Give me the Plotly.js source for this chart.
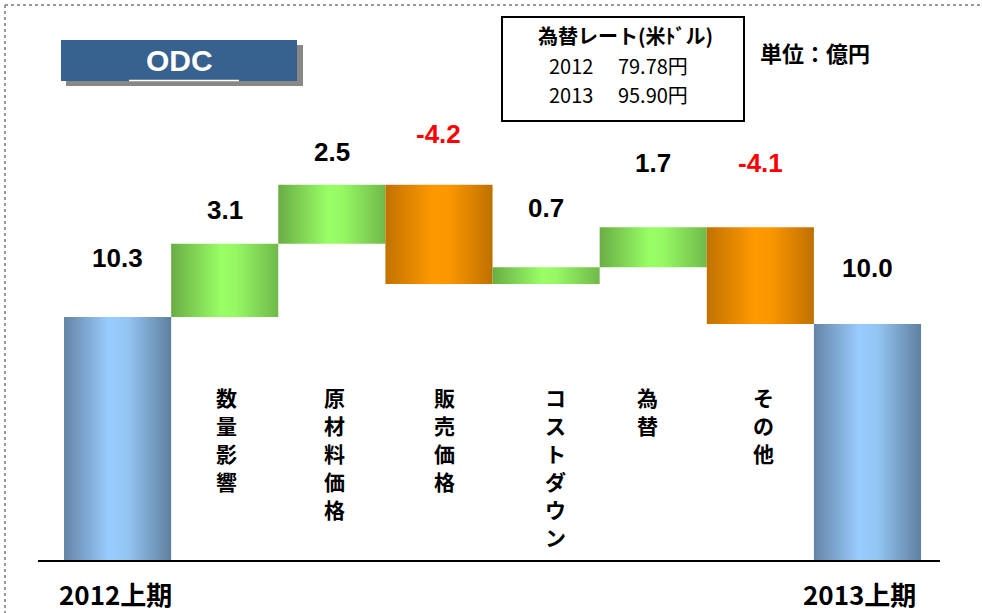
<!DOCTYPE html>
<html>
<head>
<meta charset="utf-8">
<script src="https://cdn.plot.ly/plotly-3.0.1.min.js"></script>
<style>
  html, body { margin: 0; padding: 0; background: #ffffff; }
  #chart { width: 982px; height: 613px; }
</style>
</head>
<body>
<div id="chart"></div>
<script>
// ---- data ----
const categories = ["2012上期", "数量影響", "原材料価格", "販売価格", "コストダウン", "為替", "その他", "2013上期"];
const kinds      = ["total", "delta", "delta", "delta", "delta", "delta", "delta", "total"];
const values     = [10.3, 3.1, 2.5, -4.2, 0.7, 1.7, -4.1, 10.0];
const rateTitle  = "為替レート(米ﾄﾞル)";
const rateYears  = ["2012", "2013"];
const rateValues = ["79.78円", "95.90円"];
const unitLabel  = "単位：億円";
const chartTitle = "ODC";

// ---- styling (not data) ----
const labelLift  = [59, 34, 33, 51, 59, 64, 64, 56];   // px above bar top for value labels
const catShift   = [-2, 2, 3, 6, 9, -6, 3, -8];         // px horizontal nudges for category labels
const gradBlue   = [[0, '#6584a6'], [0.42, '#99ccff'], [0.6, '#93c4f2'], [1, '#5f7f9f']];
const gradGreen  = [[0, '#6aad45'], [0.47, '#99ff66'], [0.6, '#96f864'], [1, '#70b94a']];
const gradOrange = [[0, '#c17200'], [0.45, '#ff9900'], [0.6, '#fa9600'], [1, '#bf7000']];
const jpFont  = '"Noto Sans CJK JP", "Liberation Sans", sans-serif';
const numFont = '"Liberation Sans", Arial, sans-serif';

const px = (x) => (x - 38) / 902;
const py = (y) => (560 - y) / 460;

// ---- build bars (waterfall) ----
const traces = [];
const annotations = [];
let running = 0;
values.forEach((v, i) => {
  let base, top;
  if (kinds[i] === 'total') { base = 0; top = v; running = v; }
  else { base = running; top = running + v; running = top; }
  const lo = Math.min(base, top), hi = Math.max(base, top);
  const grad = kinds[i] === 'total' ? gradBlue : (v >= 0 ? gradGreen : gradOrange);
  traces.push({
    type: 'scatter', mode: 'none', fill: 'toself',
    x: [i - 0.5, i + 0.5, i + 0.5, i - 0.5, i - 0.5],
    y: [lo, lo, hi, hi, lo],
    fillgradient: { type: 'horizontal', colorscale: grad },
    fillcolor: grad[1][1],
    hoverinfo: 'skip', showlegend: false
  });
  annotations.push({
    x: i, y: hi, xref: 'x', yref: 'y', yanchor: 'middle', xanchor: 'center',
    yshift: labelLift[i], showarrow: false,
    text: (v < 0 ? '-' : '') + Math.abs(v).toFixed(1),
    font: { family: numFont, size: 26, color: v < 0 ? '#ff0000' : '#000000', weight: 'bold' }
  });
  if (kinds[i] === 'delta') {
    Array.from(categories[i]).forEach((ch, k) => {
      annotations.push({
        x: i, y: py(397 + k * 28), xref: 'x', yref: 'paper', yanchor: 'middle', xanchor: 'center',
        xshift: catShift[i], showarrow: false, borderpad: 0,
        text: ch,
        font: { family: jpFont, size: 21, color: '#000000', weight: 'bold' }
      });
    });
  } else {
    annotations.push({
      x: i, y: py(593), xref: 'x', yref: 'paper', yanchor: 'middle', xanchor: 'center',
      xshift: catShift[i], showarrow: false, borderpad: 0, text: categories[i],
      font: { family: jpFont, size: 26, color: '#000000', weight: 'bold' }
    });
  }
});

// ODC title
annotations.push({
  x: px(179), y: py(61), xref: 'paper', yref: 'paper',
  xanchor: 'center', yanchor: 'middle', showarrow: false, text: chartTitle,
  font: { family: numFont, size: 30, color: '#ffffff', weight: 'bold' }
});
// exchange rate box texts
annotations.push({
  x: px(625), y: py(35), xref: 'paper', yref: 'paper',
  xanchor: 'center', yanchor: 'middle', showarrow: false, text: rateTitle,
  font: { family: jpFont, size: 20, color: '#000000', weight: 'bold' }
});
rateYears.forEach((yr, k) => {
  annotations.push({
    x: px(618), y: py(65 + k * 29), xref: 'paper', yref: 'paper',
    xanchor: 'center', yanchor: 'middle', showarrow: false,
    text: yr + '\u3000 ' + rateValues[k],
    font: { family: jpFont, size: 20, color: '#000000' }
  });
});
annotations.push({
  x: px(758), y: py(52), xref: 'paper', yref: 'paper',
  xanchor: 'left', yanchor: 'middle', showarrow: false, text: unitLabel,
  font: { family: jpFont, size: 22, color: '#000000', weight: 'bold' }
});

const shapes = [
  // dotted frame (top & left)
  { type: 'line', xref: 'paper', yref: 'paper', x0: px(5), x1: px(990), y0: py(5), y1: py(5),
    line: { color: '#999999', width: 2, dash: 'dot' } },
  { type: 'line', xref: 'paper', yref: 'paper', x0: px(5), x1: px(5), y0: py(5), y1: py(620),
    line: { color: '#999999', width: 2, dash: 'dot' } },
  // ODC box shadow and box
  { type: 'rect', xref: 'paper', yref: 'paper', x0: px(66), x1: px(303), y0: py(86), y1: py(45),
    fillcolor: '#888888', line: { width: 0 } },
  { type: 'rect', xref: 'paper', yref: 'paper', x0: px(61), x1: px(297), y0: py(81), y1: py(40),
    fillcolor: '#37618f', line: { width: 0 } },
  { type: 'line', xref: 'paper', yref: 'paper', x0: px(129), x1: px(239), y0: py(80.5), y1: py(80.5),
    line: { color: '#ffffff', width: 1.5 } },
  // exchange rate box
  { type: 'rect', xref: 'paper', yref: 'paper', x0: px(502), x1: px(744), y0: py(121), y1: py(17),
    fillcolor: 'rgba(0,0,0,0)', line: { color: '#000000', width: 2 } }
];

const layout = {
  width: 982, height: 613,
  margin: { l: 38, r: 42, t: 100, b: 53, pad: 0 },
  paper_bgcolor: '#ffffff', plot_bgcolor: '#ffffff',
  showlegend: false,
  xaxis: { range: [-0.743, 7.677], showgrid: false, zeroline: false, showticklabels: false,
           ticks: '', showline: true, linecolor: '#000000', linewidth: 2, fixedrange: true },
  yaxis: { range: [0, 460 / 23.6], showgrid: false, zeroline: false, showticklabels: false,
           ticks: '', showline: false, fixedrange: true },
  annotations: annotations,
  shapes: shapes
};

Plotly.newPlot('chart', traces, layout, { staticPlot: true, displayModeBar: false });
</script>
</body>
</html>
